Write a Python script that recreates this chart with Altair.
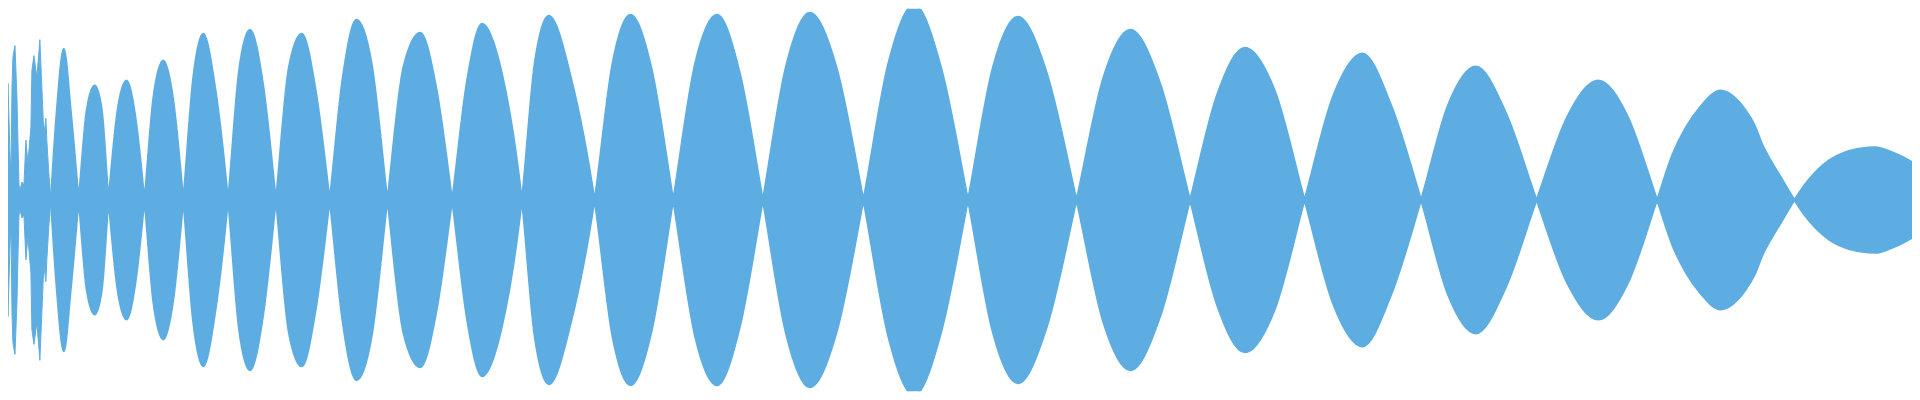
import altair as alt
import pandas as pd

# Early, spiky part of the waveform (time units, envelope amplitude)
early_t = [0, 1, 2, 3, 4, 6, 7, 8, 10, 11, 12, 13, 15, 17, 19, 20, 22, 24, 26, 28,
           31, 32, 34, 37, 40, 42, 44, 46, 47, 49, 51]
early_amp = [38, 61, 40, 55, 30, 125, 89, 117, 45, 28, 113, 144, 155, 103, 15, 10, 18, 15, 60, 37,
             73, 130, 145, 123, 161, 113, 65, 82, 60, 27, 0]

# Smooth beat envelope: node, rising mid, peak, falling mid ... (sign flips at each node)
main_t = [51, 57, 64, 71,
          79, 87, 95, 102,
          109, 118, 127, 136,
          145, 154, 164, 174,
          184, 194, 204, 216,
          229, 240, 251, 264,
          277, 290, 303, 317,
          331, 344, 358, 373,
          389, 405, 422, 438,
          454, 469, 484, 504,
          524, 537, 551, 574,
          597, 615, 633, 654,
          676, 698, 720, 743,
          766, 789, 813, 840,
          867, 892, 918, 945,
          972, 997, 1022, 1051,
          1081, 1108, 1135, 1165,
          1195, 1222, 1250, 1280,
          1310, 1339, 1368, 1397,
          1427, 1454, 1482, 1512,
          1543, 1574, 1605, 1634,
          1664, 1680, 1693, 1707, 1728, 1745, 1753, 1762, 1770, 1778, 1787,
          1802, 1812, 1823, 1837, 1853, 1870, 1883, 1900, 1913, 1920]
main_amp = [0, 90, 152, 90,
            0, -90, -115, -92,
            0, 90, 120, 83,
            0, -103, -140, -100,
            0, 123, 167, 113,
            0, -130, -171, -117,
            0, 133, 167, 110,
            0, -122, -181, -138,
            0, 133, 168, 113,
            0, -120, -177, -127,
            0, 138, 185, 120,
            0, -137, -186, -133,
            0, 137, 186, 127,
            0, -133, -188, -133,
            0, 137, 196, 133,
            0, -133, -184, -128,
            0, 123, 171, 117,
            0, -105, -153, -110,
            0, 105, 147, 95,
            0, -95, -134, -88,
            0, 84, 120, 85,
            0, -47, -73, -93, -110, -100, -90, -75, -55, -40, -25,
            0, 15, 28, 40, 48, 52, 53, 48, 42, 38]

color = "#5DADE2"

early = pd.DataFrame({"t": early_t, "hi": early_amp, "lo": [-a for a in early_amp]})
main = pd.DataFrame({"t": main_t, "hi": main_amp, "lo": [-a for a in main_amp]})

x = alt.X("t:Q", scale=alt.Scale(domain=[8, 1920], nice=False, zero=False), axis=None)
y = alt.Y("hi:Q", scale=alt.Scale(domain=[-192, 192], nice=False, zero=False), axis=None)
y2 = alt.Y2("lo:Q")

a = alt.Chart(early).mark_area(
    interpolate="linear", color=color, stroke=color, strokeWidth=1, clip=True
).encode(x=x, y=y, y2=y2)

b = alt.Chart(main).mark_area(
    interpolate="monotone", color=color, stroke=color, strokeWidth=2, clip=True
).encode(x=x, y=y, y2=y2)

chart = alt.layer(a, b).properties(
    width=1912, height=384, padding=0, autosize="none"
).configure_view(strokeWidth=0)

chart.save("out.html", embed_options={"renderer": "svg", "actions": False})
